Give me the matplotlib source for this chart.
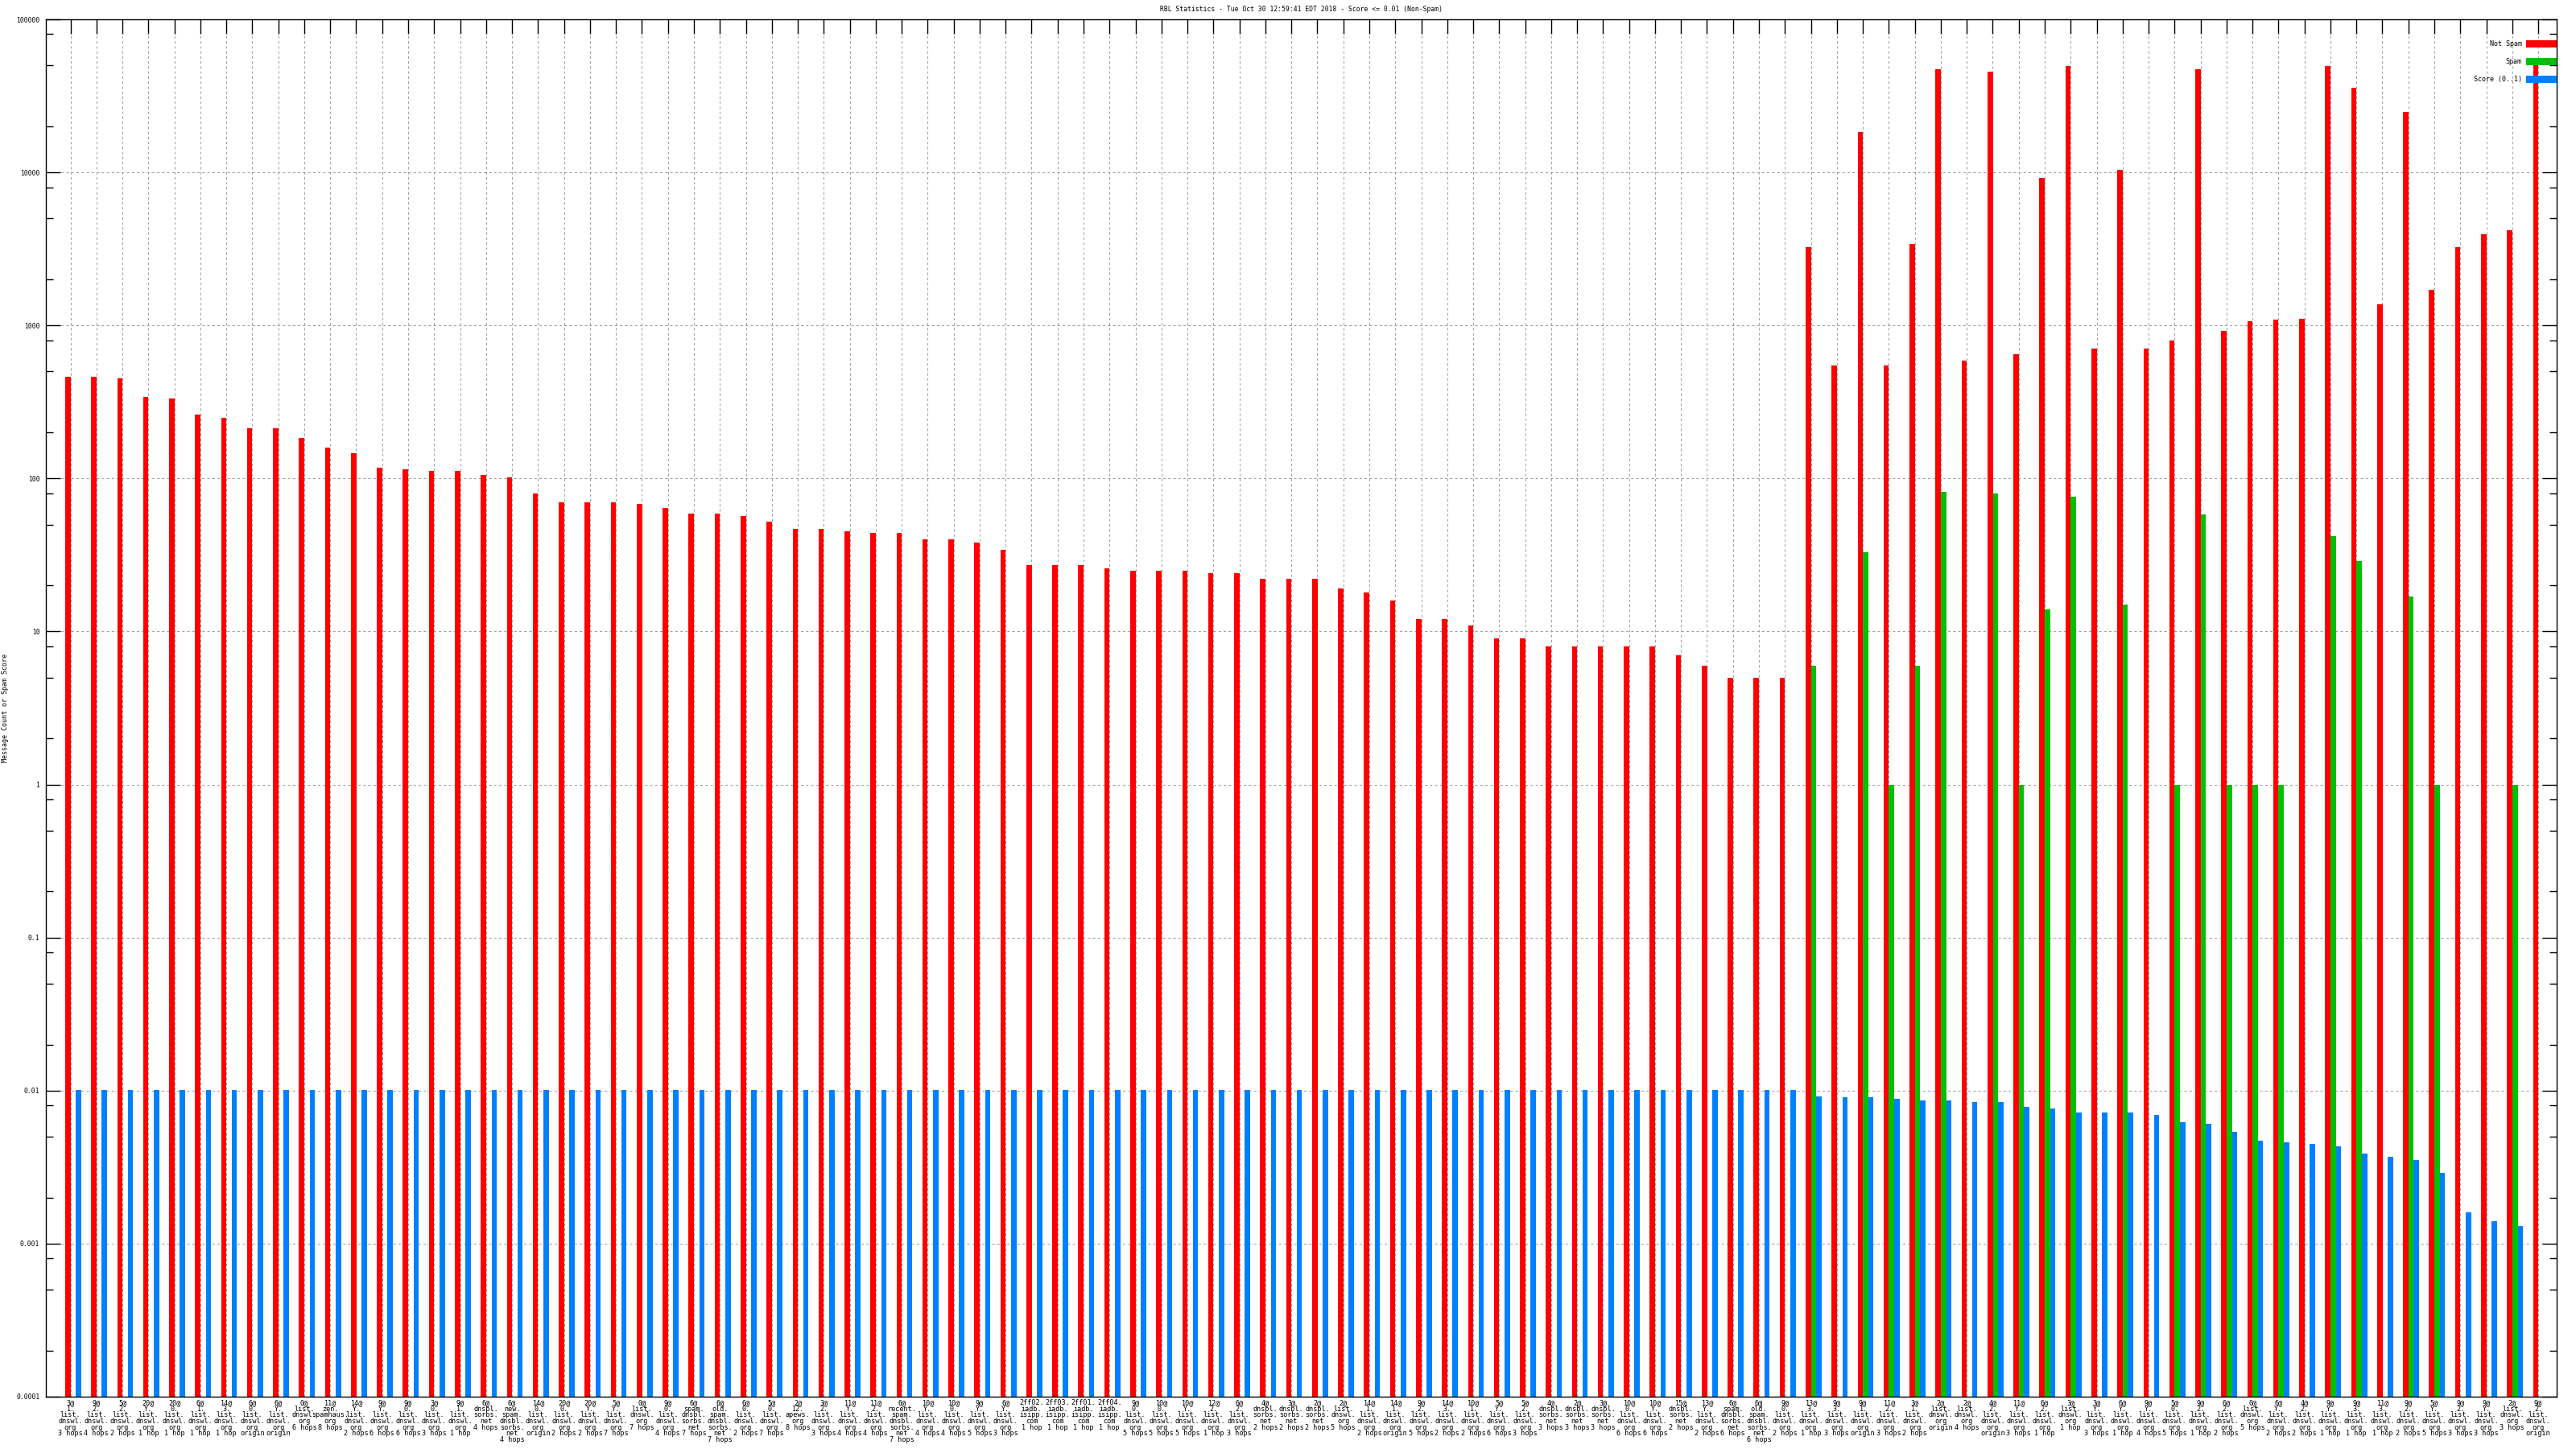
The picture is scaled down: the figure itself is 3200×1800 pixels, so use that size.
import numpy as np
import matplotlib
matplotlib.use("Agg")
import matplotlib.pyplot as plt
from matplotlib.ticker import FixedLocator, LogLocator, NullFormatter
from matplotlib.patches import Patch

# ---------------- data ----------------
labels = [
    "3@1.list.dnswl.org 3 hops", "9@2.list.dnswl.org 4 hops", "5@2.list.dnswl.org 2 hops",
    "20@Y.list.dnswl.org 1 hop", "20@0.list.dnswl.org 1 hop", "6@1.list.dnswl.org 1 hop",
    "14@3.list.dnswl.org 1 hop", "6@0.list.dnswl.org origin", "6@Y.list.dnswl.org origin",
    "0@list.dnswl.org 6 hops", "11@zen.spamhaus.org 8 hops", "14@Y.list.dnswl.org 2 hops",
    "9@Y.list.dnswl.org 6 hops", "9@0.list.dnswl.org 6 hops", "3@0.list.dnswl.org 3 hops",
    "9@1.list.dnswl.org 1 hop", "6@dnsbl.sorbs.net 4 hops", "6@new.spam.dnsbl.sorbs.net 4 hops",
    "14@0.list.dnswl.org origin", "20@0.list.dnswl.org 2 hops", "20@Y.list.dnswl.org 2 hops",
    "5@Y.list.dnswl.org 7 hops", "0@list.dnswl.org 7 hops", "9@0.list.dnswl.org 4 hops",
    "6@spam.dnsbl.sorbs.net 7 hops", "6@old.spam.dnsbl.sorbs.net 7 hops", "6@0.list.dnswl.org 2 hops",
    "5@0.list.dnswl.org 7 hops", "2@12.apews.org 8 hops", "3@2.list.dnswl.org 3 hops",
    "11@Y.list.dnswl.org 4 hops", "11@2.list.dnswl.org 4 hops", "6@recent.spam.dnsbl.sorbs.net 7 hops",
    "10@Y.list.dnswl.org 4 hops", "10@0.list.dnswl.org 4 hops", "9@Y.list.dnswl.org 5 hops",
    "6@Y.list.dnswl.org 3 hops", "2ff02.iadb.isipp.com 1 hop", "2ff03.iadb.isipp.com 1 hop",
    "2ff01.iadb.isipp.com 1 hop", "2ff04.iadb.isipp.com 1 hop", "9@0.list.dnswl.org 5 hops",
    "10@0.list.dnswl.org 5 hops", "10@Y.list.dnswl.org 5 hops", "12@2.list.dnswl.org 1 hop",
    "6@2.list.dnswl.org 3 hops", "4@dnsbl.sorbs.net 2 hops", "3@dnsbl.sorbs.net 2 hops",
    "2@dnsbl.sorbs.net 2 hops", "2@list.dnswl.org 5 hops", "14@1.list.dnswl.org 2 hops",
    "14@1.list.dnswl.org origin", "9@2.list.dnswl.org 5 hops", "14@3.list.dnswl.org 2 hops",
    "10@1.list.dnswl.org 2 hops", "5@Y.list.dnswl.org 6 hops", "5@2.list.dnswl.org 3 hops",
    "4@dnsbl.sorbs.net 3 hops", "2@dnsbl.sorbs.net 3 hops", "3@dnsbl.sorbs.net 3 hops",
    "10@0.list.dnswl.org 6 hops", "10@Y.list.dnswl.org 6 hops", "15@dnsbl.sorbs.net 2 hops",
    "13@Y.list.dnswl.org 2 hops", "6@spam.dnsbl.sorbs.net 6 hops", "6@old.spam.dnsbl.sorbs.net 6 hops",
    "9@0.list.dnswl.org 2 hops", "13@3.list.dnswl.org 1 hop", "9@3.list.dnswl.org 3 hops",
    "9@1.list.dnswl.org origin", "11@2.list.dnswl.org 3 hops", "3@1.list.dnswl.org 2 hops",
    "2@list.dnswl.org origin", "2@list.dnswl.org 4 hops", "4@2.list.dnswl.org origin",
    "11@Y.list.dnswl.org 3 hops", "6@2.list.dnswl.org 1 hop", "3@list.dnswl.org 1 hop",
    "3@Y.list.dnswl.org 3 hops", "6@Y.list.dnswl.org 1 hop", "9@Y.list.dnswl.org 4 hops",
    "5@0.list.dnswl.org 5 hops", "9@2.list.dnswl.org 1 hop", "6@2.list.dnswl.org 2 hops",
    "0@list.dnswl.org 5 hops", "6@Y.list.dnswl.org 2 hops", "4@2.list.dnswl.org 2 hops",
    "9@Y.list.dnswl.org 1 hop", "9@3.list.dnswl.org 1 hop", "11@3.list.dnswl.org 1 hop",
    "9@2.list.dnswl.org 2 hops", "5@Y.list.dnswl.org 5 hops", "9@2.list.dnswl.org 3 hops",
    "9@Y.list.dnswl.org 3 hops", "2@list.dnswl.org 3 hops", "9@2.list.dnswl.org origin",
]

not_spam = [
    461, 461, 450, 343, 333, 261, 249, 214, 214, 185,
    159, 147, 118, 115, 112, 112, 105, 102, 80, 70,
    70, 70, 68, 64, 59, 59, 57, 52, 47, 47,
    45, 44, 44, 40, 40, 38, 34, 27, 27, 27,
    26, 25, 25, 25, 24, 24, 22, 22, 22, 19,
    18, 16, 12, 12, 11, 9, 9, 8, 8, 8,
    8, 8, 7, 6, 5, 5, 5,
    3250, 548, 18400, 548, 3420, 47000, 590, 45700, 652, 9190,
    49400, 702, 10400, 706, 795, 47000, 922, 1070, 1090, 1110,
    49400, 35800, 1370, 24700, 1710, 3250, 3960, 4190, 50000,
]

spam = [0] * 67 + [
    6, 0, 33, 1, 6, 82, 0, 80, 1, 14,
    76, 0, 15, 0, 1, 58, 1, 1, 1, 0,
    42, 29, 0, 17, 1, 0, 0, 1, 0,
]

score = [0.01] * 67 + [
    0.0091, 0.0089, 0.0089, 0.0087, 0.0085, 0.0085, 0.0083, 0.0083, 0.0077, 0.0075,
    0.0071, 0.0071, 0.0071, 0.0068, 0.0061, 0.0060, 0.0053, 0.0046, 0.0045, 0.0044,
    0.0042, 0.0038, 0.0036, 0.0034, 0.0028, 0.0015, 0.0013, 0.0012, 0,
]

ytick_labels = ["0.0001", "0.001", "0.01", "0.1", "1", "10", "100", "1000", "10000", "100000"]
series_names = ["Not Spam", "Spam", "Score (0..1)"]
colors = ["#ff0000", "#00c000", "#0080ff"]
title = "RBL Statistics - Tue Oct 30 12:59:41 EDT 2018 - Score <= 0.01 (Non-Spam)"
ylabel = "Message Count or Spam Score"


def wrap(s):
    name, hop = s.split(" ", 1)
    lines = []
    if "@" in name:
        pre, host = name.split("@", 1)
        lines.append(pre + "@")
    else:
        host = name
    parts = host.split(".")
    lines += [p + "." for p in parts[:-1]] + [parts[-1], hop]
    return "\n".join(lines)


# ---------------- figure ----------------
FONT = "DejaVu Sans Mono"
plt.rcParams["font.family"] = [FONT]
W, H = 3200, 1800
fig = plt.figure(figsize=(32, 18), dpi=100)
L, R, T, B = 57, 3176, 24, 1735
ax = fig.add_axes([L / W, 1 - B / H, (R - L) / W, (B - T) / H])

n = len(labels)
x = np.arange(n)
bw = 0.205
series = [not_spam, spam, score]
for k, (vals, c) in enumerate(zip(series, colors)):
    v = np.array(vals, dtype=float)
    v[v <= 0] = np.nan
    ax.bar(x + k * bw, v, width=bw, color=c, linewidth=0, bottom=1e-4, zorder=2)

ax.set_yscale("log")
ax.set_ylim(1e-4, 1e5)
ax.set_xlim(-0.846, n - 1 + 0.81)

decades = [10.0 ** e for e in range(-4, 6)]
ax.yaxis.set_major_locator(FixedLocator(decades))
ax.set_yticklabels(ytick_labels)
ax.yaxis.set_minor_locator(LogLocator(base=10, subs=(2, 5, 8), numticks=50))
ax.yaxis.set_minor_formatter(NullFormatter())

ax.set_xticks(x + 0.1)
ax.set_xticklabels([wrap(s) for s in labels], fontsize=6.1, linespacing=0.82)

ax.tick_params(axis="y", which="major", direction="in", length=13, width=1,
               left=True, right=True, labelsize=5.8, pad=5.5)
ax.tick_params(axis="y", which="minor", direction="in", length=6.5, width=1,
               left=True, right=True)
ax.tick_params(axis="x", which="major", direction="in", length=13, width=1,
               bottom=False, top=True, labelbottom=True, pad=2)

ax.grid(True, which="major", axis="both", color="#a0a0a0", linestyle=(0, (3, 3)),
        linewidth=0.75, zorder=0)
ax.set_axisbelow(True)
for sp in ax.spines.values():
    sp.set_linewidth(1.0)
    sp.set_zorder(3)

handles = [Patch(facecolor=c, edgecolor="none") for c in colors]
ax.legend(handles, series_names, loc="upper right", frameon=False, markerfirst=False,
          fontsize=6, handlelength=4.6, handleheight=1.3, labelspacing=1.5,
          borderaxespad=0, borderpad=0, handletextpad=0.6,
          bbox_to_anchor=(1.0, 1 - 26 / (B - T)))

fig.text((L + R) / 2 / W, 1 - 12 / H, title, ha="center", va="center", fontsize=5.8)
fig.text(7 / W, 1 - (T + B) / 2 / H, ylabel, rotation=90, ha="center", va="center", fontsize=6)

fig.savefig("out.png", dpi=100)
